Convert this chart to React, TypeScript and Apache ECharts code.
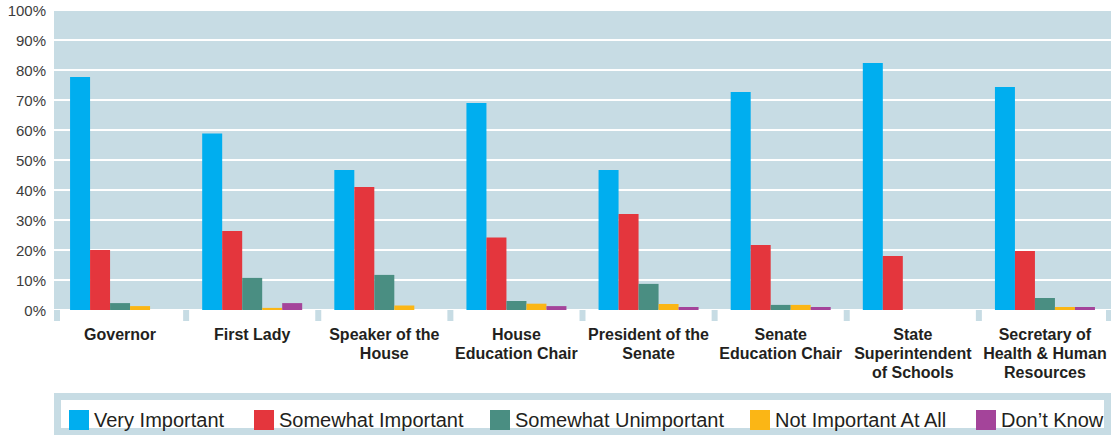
import React, { useEffect, useRef } from 'react';
import * as echarts from 'echarts';

const categories = [
  'Governor',
  'First Lady',
  'Speaker of the\nHouse',
  'House\nEducation Chair',
  'President of the\nSenate',
  'Senate\nEducation Chair',
  'State\nSuperintendent\nof Schools',
  'Secretary of\nHealth & Human\nResources',
];

const seriesNames = [
  'Very Important',
  'Somewhat Important',
  'Somewhat Unimportant',
  'Not Important At All',
  'Don\u2019t Know',
];

const veryImportant = [77.7, 58.8, 46.7, 69, 46.7, 72.7, 82.3, 74.3];
const somewhatImportant = [20, 26.3, 41, 24.2, 32, 21.7, 18, 19.7];
const somewhatUnimportant = [2.3, 10.7, 11.7, 3, 8.7, 1.7, 0, 4];
const notImportantAtAll = [1.3, 0.7, 1.5, 2.1, 2, 1.7, 0, 1];
const dontKnow = [0, 2.3, 0, 1.3, 1, 1, 0, 1];

const seriesValues = [veryImportant, somewhatImportant, somewhatUnimportant, notImportantAtAll, dontKnow];
const seriesColors = ['#00AEEF', '#E4363D', '#4A8E82', '#FBB615', '#A4449A'];

const yMin = 0;
const yMax = 100;
const yInterval = 10;

const legendLefts = [64, 249, 485, 745, 971];

const FONT = "'Liberation Sans', Arial, sans-serif";
const PANEL = '#C7DCE4';

export default function App() {
  const ref = useRef<HTMLDivElement>(null);

  useEffect(() => {
    if (!ref.current) return;
    const chart = echarts.init(ref.current, undefined, { renderer: 'svg' });

    const gridLeft = 54;
    const gridRight = 2;
    const gridTop = 10;
    const gridBottom = 125;

    chart.setOption({
      animation: false,
      textStyle: { fontFamily: FONT },
      grid: {
        left: gridLeft,
        right: gridRight,
        top: gridTop,
        bottom: gridBottom,
        show: true,
        backgroundColor: PANEL,
        borderWidth: 0,
      },
      legend: seriesNames.map((name, i) => ({
        data: [name],
        left: legendLefts[i],
        top: 405,
        itemWidth: 20,
        itemHeight: 20,
        icon: 'rect',
        selectedMode: false,
        textStyle: { fontSize: 20, color: '#231F20', fontFamily: FONT },
      })),
      xAxis: {
        type: 'category',
        data: categories,
        axisLine: { show: false },
        axisTick: { show: false },
        axisLabel: {
          interval: 0,
          margin: 15,
          fontSize: 16,
          fontWeight: 'bold',
          lineHeight: 19,
          color: '#231F20',
          fontFamily: FONT,
        },
      },
      yAxis: {
        type: 'value',
        min: yMin,
        max: yMax,
        interval: yInterval,
        axisLine: { show: false },
        axisTick: { show: false },
        axisLabel: {
          formatter: '{value}%',
          fontSize: 15,
          color: '#3C3C3C',
          margin: 8,
          fontFamily: FONT,
        },
        splitLine: { show: true, lineStyle: { color: '#FFFFFF', width: 2 } },
      },
      series: seriesNames.map((name, i) => ({
        name,
        type: 'bar',
        data: seriesValues[i],
        barWidth: 20,
        barGap: '0%',
        itemStyle: { color: seriesColors[i] },
      })),
    });

    const width = 1113;
    const plotRight = width - gridRight;
    const baseY = chart.convertToPixel({ yAxisIndex: 0 }, 0) as number;
    const n = categories.length;
    const step = (plotRight - gridLeft) / n;
    const boxes: any[] = [];
    for (let i = 0; i < n; i++) {
      const c = chart.convertToPixel({ xAxisIndex: 0 }, categories[i]) as number;
      let l = c - step / 2 + 3;
      let r = c + step / 2 - 3;
      if (i === 0) l = gridLeft + 6;
      if (i === n - 1) r = plotRight - 5;
      boxes.push({
        type: 'rect',
        shape: { x: l, y: baseY, width: r - l, height: 11 },
        style: { fill: '#FFFFFF' },
        silent: true,
        z: 1,
      });
    }

    chart.setOption({
      graphic: [
        {
          type: 'rect',
          shape: { x: gridLeft, y: baseY, width: plotRight - gridLeft, height: 11 },
          style: { fill: PANEL },
          silent: true,
          z: 0,
        },
        ...boxes,
        {
          type: 'rect',
          shape: { x: 54, y: 393, width: 1057, height: 42 },
          style: { fill: PANEL },
          silent: true,
          z: -10,
        },
        {
          type: 'rect',
          shape: { x: 61, y: 400, width: 1043, height: 28 },
          style: { fill: '#FFFFFF' },
          silent: true,
          z: -9,
        },
      ],
    });

    return () => chart.dispose();
  }, []);

  return (
    <div
      ref={ref}
      style={{ position: 'absolute', left: 0, top: 0, width: 1113, height: 435, background: '#FFFFFF' }}
    />
  );
}
